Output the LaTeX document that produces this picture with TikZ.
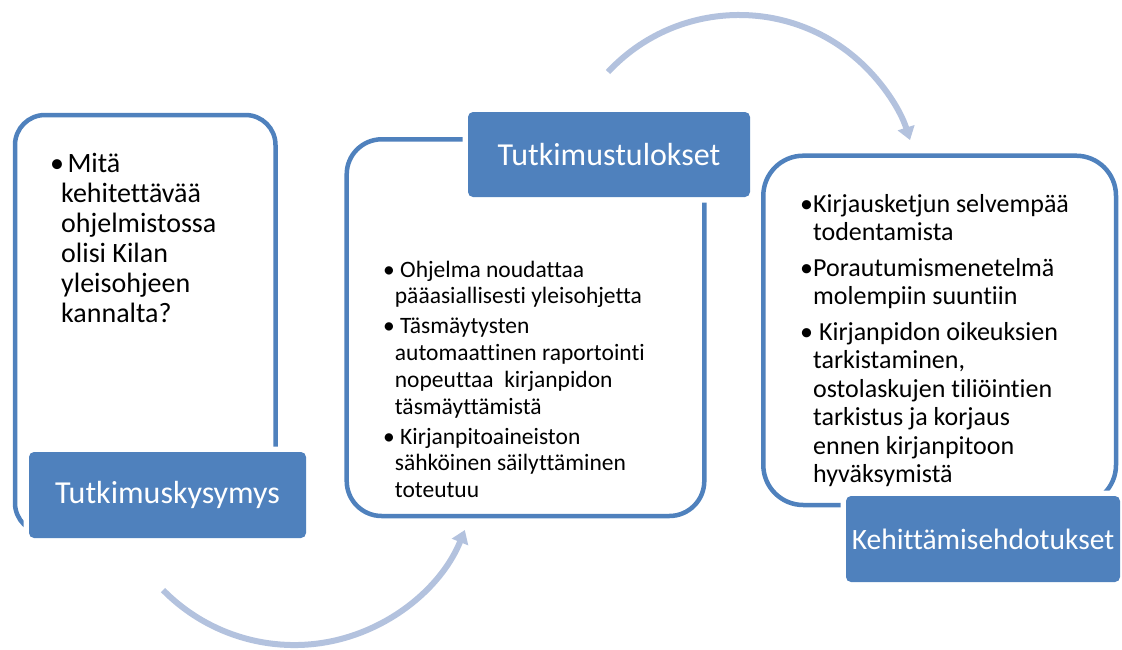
\documentclass[tikz,border=0pt]{standalone}
\usepackage{fontspec}
\setmainfont{Carlito}[Ligatures={NoCommon,NoContextual}]
\usetikzlibrary{arrows.meta}
\definecolor{accent}{RGB}{79,129,189}
\definecolor{flowc}{RGB}{179,194,222}
\newcommand{\bul}{\textbullet}
\begin{document}
\begin{tikzpicture}[x=1pt,y=-1pt,
  bigbox/.style={draw=accent, line width=4.5pt, fill=white, rounded corners=#1, inner sep=0pt},
  titlebox/.style={fill=accent, rounded corners=5pt, text=white, inner sep=0pt,
    font=\fontsize{32}{38}\selectfont, preaction={draw=white, line width=11pt}},
  bodytext/.style={anchor=base west, inner sep=0pt, align=left},
  flow/.style={draw=flowc, line width=6pt, -{Triangle[width=17pt,length=13pt]}}
  ]
\useasboundingbox (0,0) rectangle (1122,649);

% arrows
\coordinate (b1) at (163,590);
\coordinate (t1) at (608,72);
\draw[flow] (b1) arc[start angle=135.5, end angle=22, radius=184];
\draw[flow] (t1) arc[start angle=-137, end angle=-17.6, radius=179.3];

% content boxes
\node[bigbox=30pt, minimum width=260.5pt, minimum height=418pt] (q) at (145.25,324) {};
\node[bigbox=35pt, minimum width=357.6pt, minimum height=376.7pt] (r) at (525.5,327.65) {};
\node[bigbox=40pt, minimum width=352.7pt, minimum height=349.3pt] (s) at (939.65,330.35) {};

% title boxes
\node[titlebox, minimum width=277pt, minimum height=86pt] (tq) at (167.5,495) {Tutkimuskysymys};
\node[titlebox, minimum width=282pt, minimum height=85pt] (tr) at (609,154.5) {Tutkimustulokset};
\node[titlebox, minimum width=274pt, minimum height=86pt, font=\fontsize{29.5}{36}\selectfont] (ts) at (983,539) {Kehittämisehdotukset};

% texts
\node[bodytext, font=\fontsize{28}{30}\selectfont] (qt) at (50,172) {%
\begin{tabular}[t]{@{}l@{}l@{}}
\makebox[11pt][l]{\bul} & \ Mitä\\
 & kehitettävää\\
 & ohjelmistossa\\
 & olisi Kilan\\
 & yleisohjeen\\
 & kannalta?
\end{tabular}};

\node[bodytext, font=\fontsize{23.5}{26.7}\selectfont] (rt) at (383,277) {%
\begin{tabular}[t]{@{}l@{}l@{}}
\makebox[10pt][l]{\bul} & \ Ohjelma noudattaa\\
 & pääasiallisesti yleisohjetta\\[3.5pt]
\bul & \ Täsmäytysten\\
 & automaattinen raportointi\\
 & nopeuttaa\ \ kirjanpidon\\
 & täsmäyttämistä\\[3.5pt]
\bul & \ Kirjanpitoaineiston\\
 & sähköinen säilyttäminen\\
 & toteutuu
\end{tabular}};

\node[bodytext, font=\fontsize{26}{28.5}\selectfont] (st) at (800,212) {%
\begin{tabular}[t]{@{}l@{}l@{}}
\makebox[11pt][l]{\bul} & Kirjausketjun selvempää\\
 & todentamista\\[7pt]
\bul & Porautumismenetelmä\\
 & molempiin suuntiin\\[7pt]
\bul & \ Kirjanpidon oikeuksien\\
 & tarkistaminen,\\
 & ostolaskujen tiliöintien\\
 & tarkistus ja korjaus\\
 & ennen kirjanpitoon\\
 & hyväksymistä
\end{tabular}};
\end{tikzpicture}
\end{document}
